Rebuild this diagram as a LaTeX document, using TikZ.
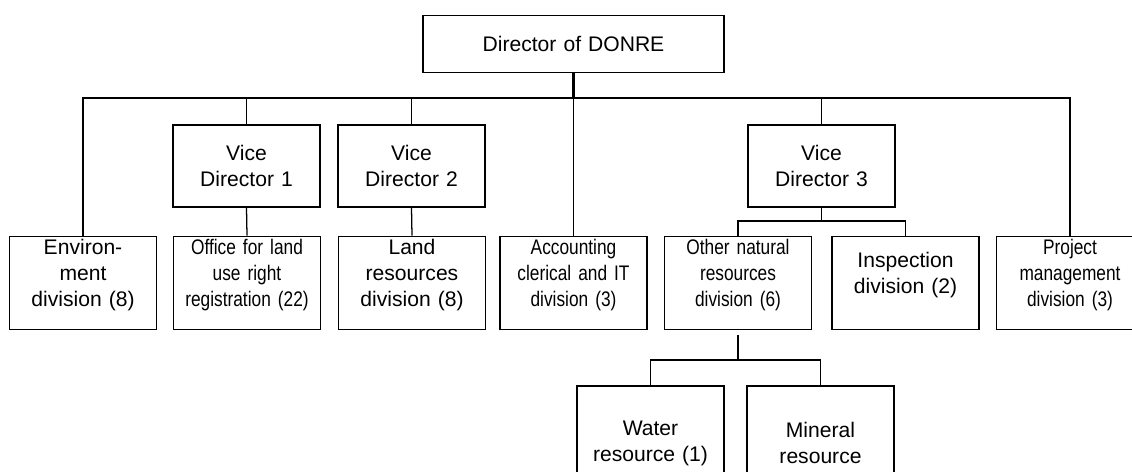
\documentclass[tikz,border=0pt]{standalone}
\usepackage{fontspec}
\setmainfont{Liberation Sans}
\newfontfamily\narrowfont[FakeStretch=0.82]{Liberation Sans}
\usetikzlibrary{positioning, calc}

\tikzset{
  unit/.style={draw, line width=0.9pt, inner sep=0pt, align=center,
    text width=3.5cm, minimum width=3.675cm},
  vicebox/.style={unit, minimum height=2.05cm},
  divbox/.style={unit, minimum height=2.34cm, execute at end node={\par\kern11pt}},
  subbox/.style={unit, minimum height=2.85cm},
  narrow/.style={font=\narrowfont\fontsize{15}{18.4}\selectfont},
}

\begin{document}
\begin{tikzpicture}[x=0.025cm, y=-0.025cm, font=\fontsize{15}{18.4}\selectfont, line width=0.9pt]
  \useasboundingbox (0,0) rectangle (1132,472);
  \clip (0,0) rectangle (1132,472);
  % director
  \node[unit, text width=7cm, minimum width=7.525cm, minimum height=1.425cm] (dir) at (573.5,44) {Director of DONRE};
  % vice directors
  \node[vicebox] (vdone) at (246.5,166) {Vice\\Director 1};
  \node[vicebox] (vdtwo) at (411.5,166) {Vice\\Director 2};
  \node[vicebox] (vdthree) at (821.5,166) {Vice\\Director 3};
  % divisions
  \node[divbox] (env) at (83,283) {Environ-\\ment\\division (8)};
  \node[divbox, narrow] (office) at (247,283) {Office for land\\use right\\registration (22)};
  \node[divbox] (land) at (412,283) {Land\\resources\\division (8)};
  \node[divbox, narrow] (acc) at (573.5,283) {Accounting\\clerical and IT\\division (3)};
  \node[divbox, narrow] (other) at (738,283) {Other natural\\resources\\division (6)};
  \node[divbox] (insp) at (905.5,283) {Inspection\\division (2)};
  \node[divbox, narrow] (proj) at (1070,283) {Project\\management\\division (3)};
  % under other natural resources
  \node[subbox] (water) at (650.5,443) {Water\\resource (1)};
  \node[subbox] (mineral) at (820.5,443) {Mineral\\resource};

  % main bus
  \coordinate (busL) at (83,98);
  \coordinate (busR) at (1070,98);
  \draw (env.north) -- (busL) -- (busR) -- (proj.north);
  \draw[line width=1.6pt] (dir.south) -- (dir.south |- busL) -- (vdone.north |- busL);
  \draw (dir.south |- busL) -- (acc.north);
  \foreach \n in {vdone, vdtwo, vdthree}
    \draw (\n.north) -- (\n.north |- busL);
  \draw (vdone.south) -- (office.north);
  \draw (vdtwo.south) -- (land.north);
  % vice director 3
  \coordinate (vbus) at (821.5,221);
  \draw (vdthree.south) -- (vbus);
  \draw (other.north) |- (vbus) -| (insp.north);
  % natural resources
  \coordinate (nbus) at (738,360);
  \draw ($(other.south)+(0,5)$) -- (nbus);
  \draw (water.north) |- (nbus) -| (mineral.north);
\end{tikzpicture}
\end{document}
